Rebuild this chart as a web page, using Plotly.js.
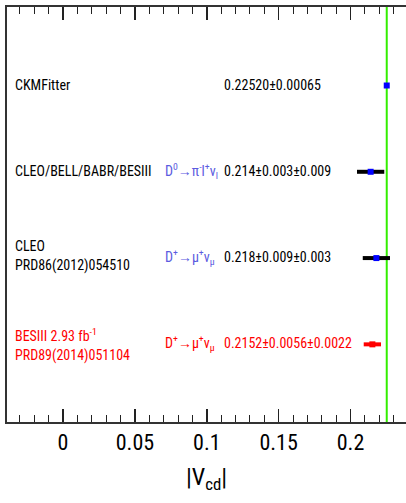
<!DOCTYPE html>
<html><head><meta charset="utf-8">
<script src="https://cdn.plot.ly/plotly-3.0.1.min.js"></script>
<style>html,body{margin:0;padding:0;background:#fff}#chart{width:406px;height:503px}</style>
</head><body><div id="chart"></div>
<script>
// Data
const rowPos = [4, 3, 2, 1];
const experimentLines = [["CKMFitter"], ["CLEO/BELL/BABR/BESIII"], ["CLEO", "PRD86(2012)054510"], ["BESIII 2.93 fb<sup>-1</sup>", "PRD89(2014)051104"]];
const channels = ["", "D<sup>0</sup>→π<sup>-</sup>l<sup>+</sup>ν<sub>l</sub>", "D<sup>+</sup>→μ<sup>+</sup>ν<sub>μ</sub>", "D<sup>+</sup>→μ<sup>+</sup>ν<sub>μ</sub>"];
const resultText = ["0.22520±0.00065", "0.214±0.003±0.009", "0.218±0.009±0.003", "0.2152±0.0056±0.0022"];
const vcd = [0.22520, 0.214, 0.218, 0.2152];
const statErr = [0.00065, 0.003, 0.009, 0.0056];
const systErr = [0, 0.009, 0.003, 0.0022];
const textColors = ["#000000", "#000000", "#000000", "#ff0000"];
const channelColors = ["#5b5be0", "#5b5be0", "#5b5be0", "#ff0000"];
const markerColors = ["#0000ff", "#0000ff", "#0000ff", "#ff0000"];
const barColors = ["#000000", "#000000", "#000000", "#ff0000"];
const xTickVals = [0, 0.05, 0.1, 0.15, 0.2];
const xTickText = ["0", "0.05", "0.1", "0.15", "0.2"];
const refValue = 0.22520;

const totErr = vcd.map((v, i) => Math.sqrt(statErr[i] ** 2 + systErr[i] ** 2));
const FONT = "'Roboto Condensed', 'Liberation Sans', Arial, sans-serif";
const lineShifts = { 2: [12, -7], 3: [9, -11] };

const traces = vcd.map((v, i) => ({
  type: "scatter", mode: "markers",
  x: [v], y: [rowPos[i]],
  marker: { symbol: "square", size: 6, color: markerColors[i] },
  error_x: { type: "data", array: [totErr[i]], visible: true, thickness: 4, width: 0, color: barColors[i] },
  showlegend: false, hoverinfo: "skip"
}));

const annotations = [];
experimentLines.forEach((lines, i) => {
  lines.forEach((ln, k) => {
    const shift = lines.length === 1 ? 1 : lineShifts[i][k];
    annotations.push({ x: -0.0349, y: rowPos[i], xref: "x", yref: "y", xanchor: "left", yanchor: "middle",
      text: ln, showarrow: false, yshift: shift, font: { family: FONT, size: 14, color: textColors[i] } });
  });
  if (channels[i]) annotations.push({ x: 0.0698, y: rowPos[i], xref: "x", yref: "y", xanchor: "left", yanchor: "middle",
    text: channels[i], showarrow: false, yshift: 1, font: { family: FONT, size: 14, color: channelColors[i] } });
  annotations.push({ x: 0.1103, y: rowPos[i], xref: "x", yref: "y", xanchor: "left", yanchor: "middle",
    text: resultText[i], showarrow: false, yshift: 1, font: { family: FONT, size: 14, color: textColors[i] } });
});

const layout = {
  width: 406, height: 503,
  margin: { l: 7, r: 0, t: 7, b: 81 },
  paper_bgcolor: "#fff", plot_bgcolor: "#fff",
  xaxis: {
    range: [-0.039, 0.2386], showgrid: false, zeroline: false,
    showline: true, linecolor: "#333", linewidth: 2, mirror: "ticks",
    ticks: "inside", ticklen: 13, tickwidth: 1.5, tickcolor: "#222",
    tickvals: xTickVals, ticktext: xTickText,
    minor: { dtick: 0.01, tick0: 0, ticks: "inside", ticklen: 7, tickwidth: 1, tickcolor: "#222", showgrid: false },
    tickfont: { family: FONT, size: 22, color: "#000" },
    title: { text: "|V<sub>cd</sub>|", font: { family: FONT, size: 24, color: "#000" }, standoff: 14 }
  },
  yaxis: {
    range: [0.1, 4.91], showgrid: false, zeroline: false, showticklabels: false,
    showline: true, linecolor: "#333", linewidth: 2, ticks: "", mirror: false
  },
  shapes: [{ type: "line", xref: "x", yref: "paper", x0: refValue, x1: refValue, y0: 0, y1: 1,
    line: { color: "#33ee00", width: 2 }, layer: "below" }],
  annotations: annotations
};

Plotly.newPlot("chart", traces, layout, { staticPlot: true, displayModeBar: false });
</script>
</body></html>
